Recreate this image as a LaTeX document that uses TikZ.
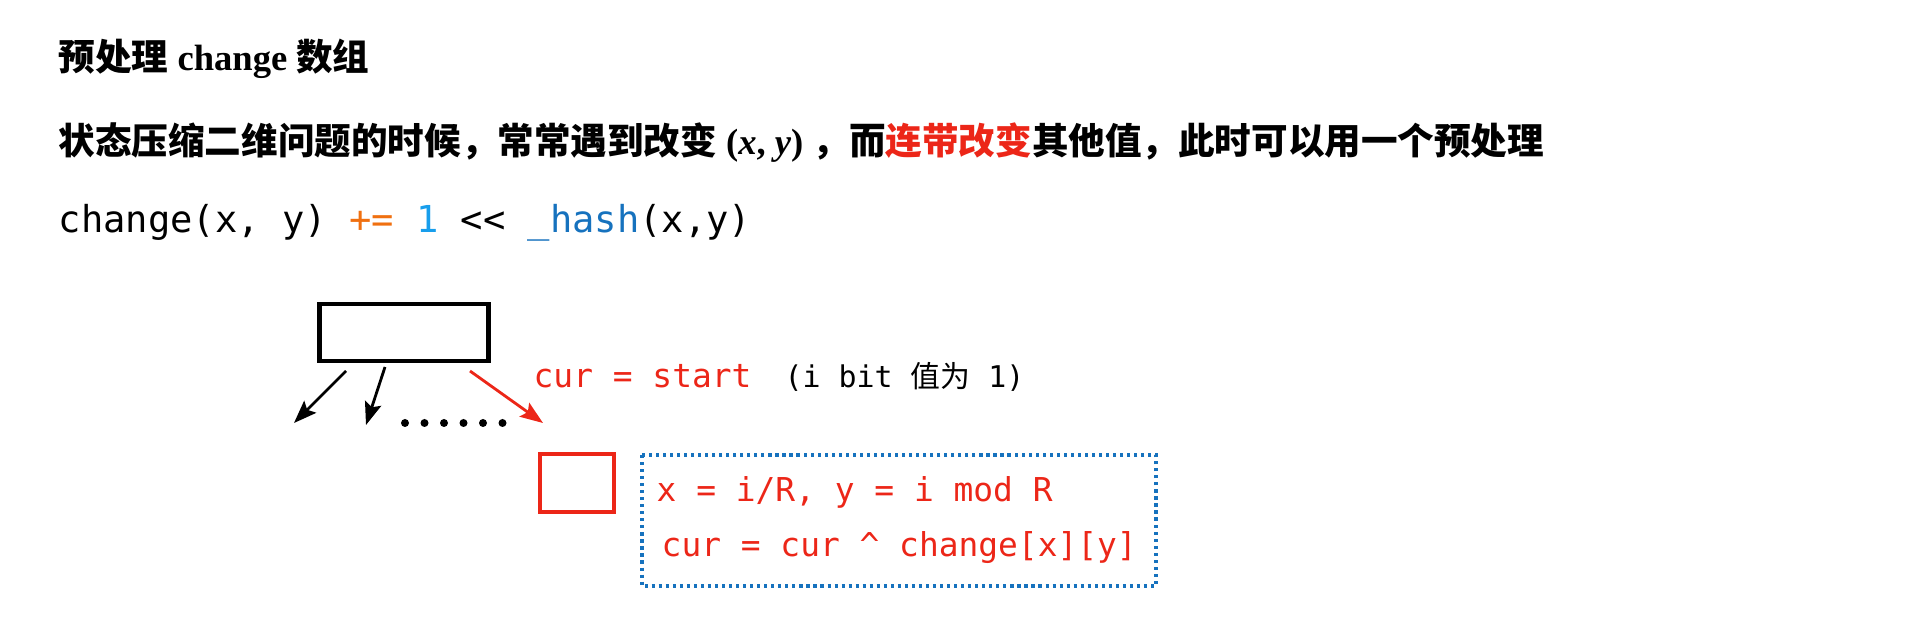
\documentclass[tikz,border=0pt]{standalone}
\usepackage{fontspec}
\usetikzlibrary{arrows.meta}
\setmainfont{Liberation Serif}
\setmonofont{DejaVu Sans Mono}
\newfontfamily\cjk{Noto Sans CJK SC}
\definecolor{hlred}{RGB}{236,38,24}
\definecolor{hlorange}{RGB}{240,112,16}
\definecolor{hlsky}{RGB}{24,158,236}
\definecolor{hlblue}{RGB}{22,114,190}
\tikzset{
  txt/.style={anchor=base west, inner sep=0pt, font=\fontsize{10.4pt}{12pt}\selectfont},
  code/.style={anchor=base west, inner sep=0pt, font=\fontsize{9.35pt}{11pt}\selectfont\ttfamily},
  arr/.style={-{Stealth[length=6.5pt,width=4.8pt,inset=1.2pt]}, line width=0.8pt}
}
\begin{document}
\begin{tikzpicture}[x=0.01cm, y=-0.01cm]
  \useasboundingbox (0,0) rectangle (1920,640);

  %draw title and text lines
  \node[txt] (title) at (58,71) {\bfseries{\cjk 预处理} change {\cjk 数组}};
  \node[txt] (intro) at (58,155) {\bfseries{\cjk 状态压缩二维问题的时候，常常遇到改变} (\textit{x}, \textit{y}) {\cjk ，而\textcolor{hlred}{连带改变}其他值，此时可以用一个预处理}};
  \node[txt, font=\fontsize{10.55pt}{12pt}\selectfont\ttfamily] (formula) at (58,233)
    {change(x, y) \textcolor{hlorange}{+=} \textcolor{hlsky}{1} << \textcolor{hlblue}{\_hash}(x,y)};

  %draw boxes
  \node[draw, line width=1.4pt, minimum width=1.68cm, minimum height=0.57cm, inner sep=0pt] (parent) at (404,332.5) {};
  \node[draw=hlred, line width=1.1pt, minimum width=0.74cm, minimum height=0.58cm, inner sep=0pt] (child) at (577,483) {};
  \draw[hlblue, line width=0.9pt, dash pattern=on 0.9pt off 1.1pt] (642,455) rectangle (1156,586);

  %draw arrows
  \coordinate (s1) at (346,371);
  \coordinate (e1) at (294,423);
  \coordinate (s2) at (385,367);
  \coordinate (e2) at (366,425);
  \coordinate (s3) at (470,371);
  \coordinate (e3) at (543,423);
  \draw[arr] (s1) -- (e1);
  \draw[arr] (s2) -- (e2);
  \draw[arr, hlred] (s3) -- (e3);

  %draw dots
  \foreach \x in {0,1,2,3,4,5}
     \fill (405+\x*19.5,423) circle (4);

  %draw labels
  \node[code, text=hlred] (start) at (533,388) {cur = start};
  \node[code, font=\fontsize{8.5pt}{10pt}\selectfont\ttfamily] (bit) at (784,388) {(i bit {\cjk 值为} 1)};
  \node[code, text=hlred] (line1) at (656,502) {x = i/R, y = i mod R};
  \node[code, text=hlred] (line2) at (661,557) {cur = cur \^{} change[x][y]};
\end{tikzpicture}
\end{document}
